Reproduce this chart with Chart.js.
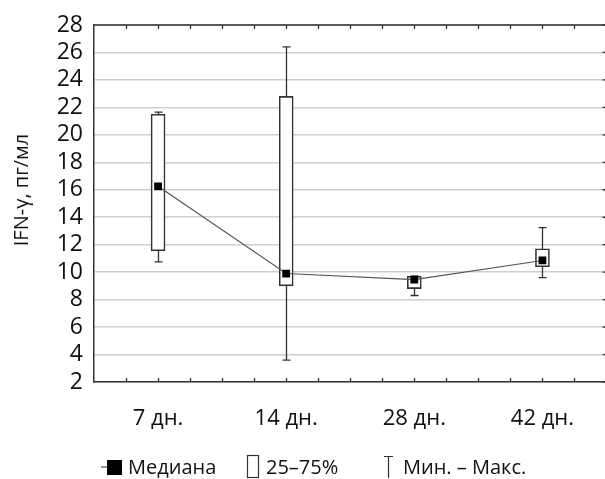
<!DOCTYPE html>
<html><head><meta charset="utf-8">
<script src="https://cdn.jsdelivr.net/npm/chart.js@4/dist/chart.umd.min.js"></script>
<style>html,body{margin:0;padding:0;background:#fff;overflow:hidden}
#wrap{position:relative;width:612px;height:479px}</style></head>
<body><div id="wrap"><canvas id="c" width="612" height="479"></canvas></div>
<script>
const categories = ['7 дн.', '14 дн.', '28 дн.', '42 дн.'];
const medians = [16.25, 9.9, 9.45, 10.85];
const q1 = [11.55, 9.0, 8.8, 10.4];
const q3 = [21.5, 22.8, 9.7, 11.7];
const mins = [10.75, 3.6, 8.3, 9.6];
const maxs = [21.65, 26.4, 9.7, 13.25];
const yTickValues = [2, 4, 6, 8, 10, 12, 14, 16, 18, 20, 22, 24, 26, 28];
const xTickValues = [0.5, 0.75, 1, 1.25, 1.5, 1.75, 2, 2.25, 2.5, 2.75, 3, 3.25, 3.5, 3.75, 4, 4.25, 4.5];
const legendLabels = ['Медиана', '25–75%', 'Мин. – Макс.'];
const yTitle = 'IFN-γ, пг/мл';

const FONT = "'Open Sans', sans-serif";
const AX = '#333';

const decor = {
  id: 'decor',
  beforeDatasetsDraw(chart) {
    const ctx = chart.ctx, xs = chart.scales.x, ys = chart.scales.y;
    ctx.save();
    ctx.strokeStyle = '#333';
    ctx.lineWidth = 1.3;
    categories.forEach((c, i) => {
      const x = Math.round(xs.getPixelForValue(i + 1)) + 0.5;
      const yMin = ys.getPixelForValue(mins[i]);
      const yMax = ys.getPixelForValue(maxs[i]);
      ctx.beginPath();
      ctx.moveTo(x, yMin); ctx.lineTo(x, yMax);
      ctx.moveTo(x - 4, yMin); ctx.lineTo(x + 4, yMin);
      ctx.moveTo(x - 4, yMax); ctx.lineTo(x + 4, yMax);
      ctx.stroke();
    });
    ctx.restore();
  },
  afterDraw(chart) {
    const ctx = chart.ctx, xs = chart.scales.x, ys = chart.scales.y;
    const a = chart.chartArea;
    ctx.save();
    ctx.strokeStyle = AX;
    ctx.lineWidth = 1.5;
    ctx.beginPath();
    ctx.moveTo(a.left, a.top); ctx.lineTo(a.right, a.top);
    ctx.moveTo(a.right, a.top); ctx.lineTo(a.right, a.bottom);
    ctx.stroke();
    ctx.lineWidth = 1.3;
    ctx.beginPath();
    xTickValues.forEach(v => {
      if (v <= xs.min || v >= xs.max) return;
      const x = Math.round(xs.getPixelForValue(v)) + 0.5;
      ctx.moveTo(x, a.top); ctx.lineTo(x, a.top + 4);
      ctx.moveTo(x, a.bottom); ctx.lineTo(x, a.bottom - 4);
    });
    yTickValues.forEach(v => {
      const y = ys.getPixelForValue(v);
      ctx.moveTo(a.right, y); ctx.lineTo(a.right - 4, y);
    });
    ctx.stroke();

    // y-axis title
    ctx.save();
    ctx.fillStyle = '#111';
    ctx.font = "20px " + FONT;
    ctx.textAlign = 'center';
    ctx.textBaseline = 'middle';
    ctx.translate(22, 190);
    ctx.rotate(-Math.PI / 2);
    ctx.fillText(yTitle, 0, 0);
    ctx.restore();

    // legend
    const ly = 467;
    ctx.font = "20px " + FONT;
    ctx.textBaseline = 'middle';
    ctx.textAlign = 'left';
    ctx.strokeStyle = '#555';
    ctx.lineWidth = 1.2;
    ctx.beginPath(); ctx.moveTo(101, ly); ctx.lineTo(110, ly); ctx.stroke();
    ctx.fillStyle = '#000';
    ctx.fillRect(107, ly - 7, 15, 15);
    ctx.fillStyle = '#111';
    ctx.fillText(legendLabels[0], 128, ly + 1);
    ctx.strokeStyle = '#333';
    ctx.lineWidth = 1.2;
    ctx.strokeRect(247.5, ly - 11.5, 11, 22);
    ctx.fillText(legendLabels[1], 266, ly + 1);
    ctx.beginPath();
    ctx.moveTo(388.5, ly - 11); ctx.lineTo(388.5, ly + 11);
    ctx.moveTo(384, ly - 10.5); ctx.lineTo(393, ly - 10.5);
    ctx.stroke();
    ctx.fillText(legendLabels[2], 403, ly + 1);
    ctx.restore();
  }
};

new Chart(document.getElementById('c'), {
  data: {
    datasets: [
      {
        type: 'bar',
        data: categories.map((c, i) => ({ x: i + 1, y: [q1[i], q3[i]] })),
        backgroundColor: '#fff',
        borderColor: '#333',
        borderWidth: 1.6,
        borderSkipped: false,
        barThickness: 14,
        order: 2
      },
      {
        type: 'line',
        data: categories.map((c, i) => ({ x: i + 1, y: medians[i] })),
        borderColor: '#555',
        borderWidth: 1.2,
        pointStyle: 'rect',
        pointRadius: 5.5,
        pointBackgroundColor: '#000',
        pointBorderWidth: 0,
        order: 1
      }
    ]
  },
  options: {
    responsive: false,
    devicePixelRatio: 1,
    animation: false,
    events: [],
    layout: { padding: { left: 0, top: 25, right: 1, bottom: 0 } },
    plugins: { legend: { display: false }, tooltip: { enabled: false } },
    scales: {
      x: {
        type: 'linear',
        offset: false,
        min: 0.5, max: 4.5,
        afterFit: s => { s.height = 97; s.paddingLeft = 0; s.paddingRight = 0; },
        afterBuildTicks: s => { s.ticks = xTickValues.map(v => ({ value: v })); },
        grid: { display: false, drawTicks: false, offset: false },
        border: { display: true, color: AX, width: 1.5 },
        ticks: {
          autoSkip: false, maxRotation: 0, padding: 24,
          color: '#111', font: { family: FONT, size: 22 },
          callback: v => Number.isInteger(v) ? categories[v - 1] : ''
        }
      },
      y: {
        min: 2, max: 28,
        afterFit: s => { s.width = 94; s.paddingTop = 0; s.paddingBottom = 0; },
        afterBuildTicks: s => { s.ticks = yTickValues.map(v => ({ value: v })); },
        grid: { color: '#cfcfcf', lineWidth: 1.5, drawTicks: false },
        border: { display: true, color: AX, width: 1.5 },
        ticks: { autoSkip: false, padding: 11, color: '#111', font: { family: FONT, size: 23 } },
        title: { display: false, text: yTitle }
      }
    }
  },
  plugins: [decor]
});
</script></body></html>
